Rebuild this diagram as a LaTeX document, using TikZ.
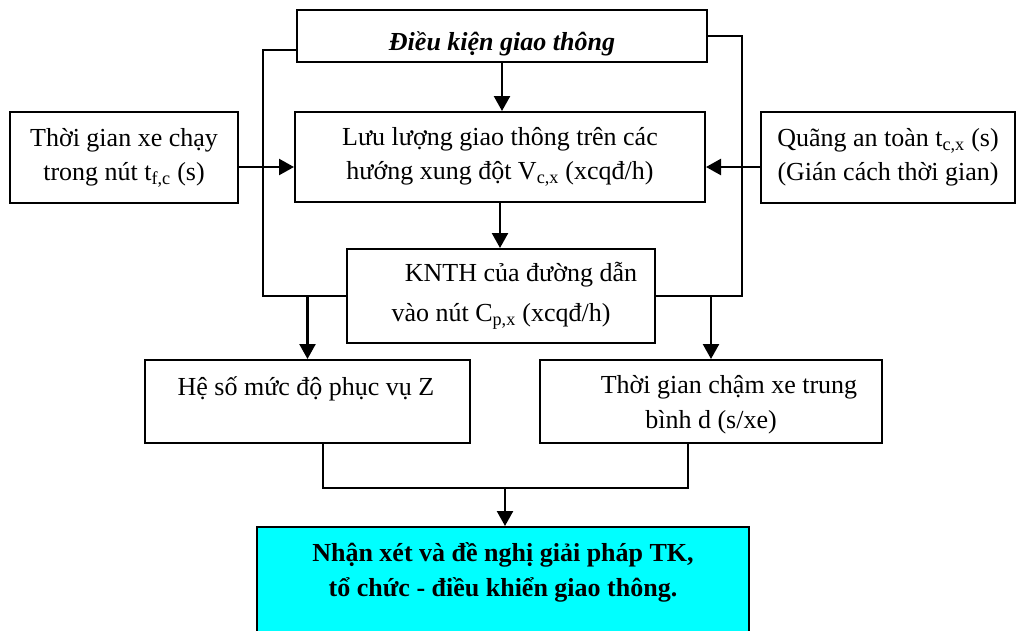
\documentclass[tikz,border=0pt]{standalone}
\usepackage{fontspec}
\setmainfont{Liberation Serif}
\usetikzlibrary{arrows.meta,calc}

\begin{document}
\begin{tikzpicture}[x=1pt,y=-1pt,
  box/.style={draw, line width=2pt, inner sep=0pt, align=center,
    font=\fontsize{26}{34}\selectfont},
  txt/.style={inner sep=0pt, anchor=base, font=\fontsize{26}{34}\selectfont},
  link/.style={line width=2pt},
  arr/.style={line width=2.4pt, -{Triangle[length=15pt,width=16pt]}}]

  \useasboundingbox (0,0) rectangle (1020,630);
  \fill[white] (0,0) rectangle (1020,630);

  % boxes
  \node[box, minimum width=410, minimum height=52, text height=28pt, text depth=0pt,
    font=\fontsize{26}{34}\selectfont\bfseries\itshape]
    (dk) at (502,36) {Điều kiện giao thông};
  \node[box, minimum width=410, minimum height=90]
    (ll) at (500,157) {Lưu lượng giao thông trên các\\hướng xung đột V\textsubscript{c,x} (xcqđ/h)};
  \node[box, minimum width=228, minimum height=91]
    (tf) at (124,157.5) {Thời gian xe chạy\\trong nút t\textsubscript{f,c} (s)};
  \node[box, minimum width=254, minimum height=91]
    (tc) at (888,157.5) {Quãng an toàn t\textsubscript{c,x} (s)\\(Gián cách thời gian)};
  \node[box, minimum width=308, minimum height=94, font=\fontsize{26}{40}\selectfont]
    (kn) at (501,296) {\hspace*{40pt}KNTH của đường dẫn\\vào nút C\textsubscript{p,x} (xcqđ/h)};

  \node[box, minimum width=325, minimum height=83] (z) at (307.5,401.5) {};
  \node[txt] (zt) at (306,395) {Hệ số mức độ phục vụ Z};

  \node[box, minimum width=342, minimum height=83] (d) at (711,401.5) {};
  \node[txt, font=\fontsize{26}{35}\selectfont] (dt) at (711,393)
    {\begin{tabular}[t]{@{}c@{}}\hspace*{36pt}Thời gian chậm xe trung\\bình d (s/xe)\end{tabular}};

  \node[box, fill={rgb,255:red,0;green,255;blue,255}, minimum width=492, minimum height=132]
    (nx) at (503,593) {};
  \node[align=center, inner sep=0pt, font=\fontsize{26}{35}\selectfont\bfseries]
    (nxt) at (503,572) {Nhận xét và đề nghị giải pháp TK,\\tổ chức - điều khiển giao thông.};

  % junction points
  \coordinate (cL) at (263,296);
  \coordinate (cR) at (742,296);
  \coordinate (j) at (505,488);

  % main flow
  \draw[arr] (dk.south) -- (dk.south |- ll.north);
  \draw[arr] (ll.south) -- (ll.south |- kn.north);
  \draw[arr] ([yshift=-9.5pt]tf.east) -- ([yshift=-9.5pt]tf.east -| ll.west);
  \draw[arr] ([yshift=-9.5pt]tc.west) -- ([yshift=-9.5pt]tc.west -| ll.east);

  % side branches from the traffic conditions
  \draw[link] ([yshift=-14pt]dk.west) -| (cL) -- (kn.west);
  \draw[link] (dk.east) -| (cR) -- (kn.east);
  \draw[arr] (z.north |- cL) -- (z.north);
  \draw[arr] (d.north |- cR) -- (d.north);

  % merge into the conclusion
  \draw[link] ([xshift=15.5pt]z.south) |- (j);
  \draw[link] ([xshift=-23pt]d.south) |- (j);
  \draw[arr] (j) -- (j |- nx.north);
\end{tikzpicture}
\end{document}
